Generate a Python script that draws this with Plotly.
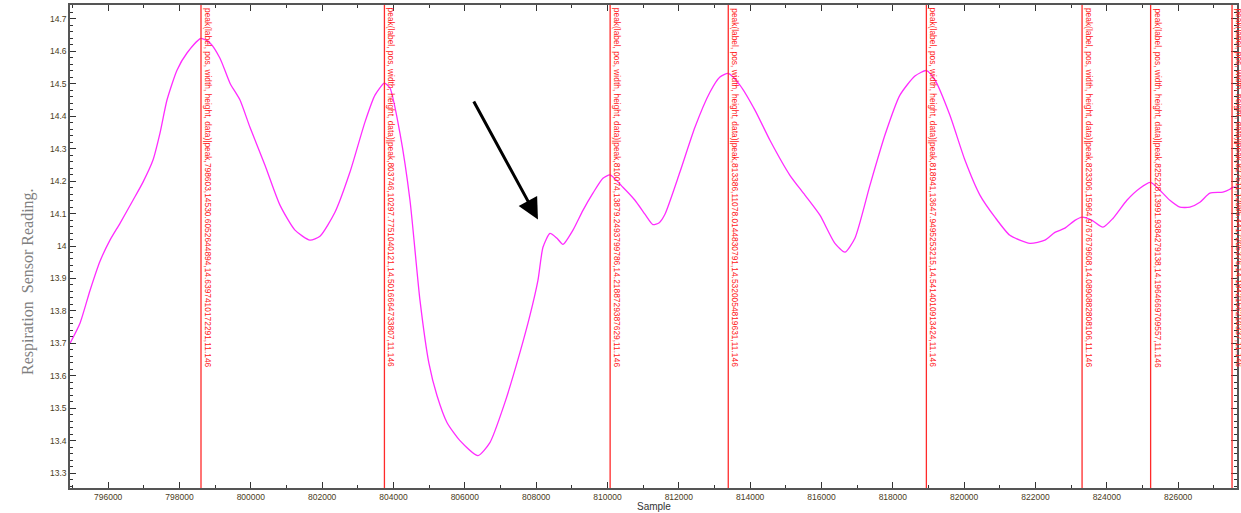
import plotly.graph_objects as go

# ---- data ----
sample = [794930, 795210, 795491, 795771, 796051, 796332, 796696, 796977, 797257, 797453,
          797649, 797930, 798210, 798603, 798855, 799135, 799416, 799696, 799976, 800397,
          800817, 801238, 801658, 801939, 802359, 802780, 803200, 803481, 803746, 803901,
          804181, 804462, 804742, 804994, 805219, 805499, 805864, 806368, 806703, 807125,
          807546, 807826, 808050, 808191, 808387, 808583, 808751, 809032, 809312, 809592,
          809873, 810074, 810433, 810770, 811050, 811274, 811450, 811611, 812031, 812452,
          812872, 813153, 813386, 813713, 814134, 814555, 815115, 815536, 815956, 816377,
          816657, 816937, 817358, 817779, 818199, 818620, 818941, 819180, 819601, 820021,
          820442, 820862, 821283, 821844, 822264, 822544, 822825, 823105, 823306, 823586,
          823890, 824171, 824563, 824927, 825228, 825488, 825768, 826049, 826329, 826610,
          826890, 827254, 827450, 827534, 827650]
reading = [13.700, 13.762, 13.863, 13.953, 14.018, 14.070, 14.141, 14.197, 14.265, 14.348,
           14.450, 14.542, 14.595, 14.640, 14.626, 14.579, 14.502, 14.450, 14.366, 14.249,
           14.126, 14.049, 14.018, 14.030, 14.104, 14.228, 14.382, 14.465, 14.502, 14.487,
           14.348, 14.141, 13.833, 13.638, 13.539, 13.456, 13.400, 13.354, 13.394, 13.518,
           13.672, 13.786, 13.894, 13.996, 14.039, 14.024, 14.005, 14.049, 14.110, 14.163,
           14.209, 14.219, 14.181, 14.141, 14.098, 14.066, 14.072, 14.098, 14.228, 14.366,
           14.474, 14.521, 14.532, 14.496, 14.419, 14.326, 14.218, 14.157, 14.095, 14.008,
           13.981, 14.024, 14.187, 14.342, 14.465, 14.524, 14.541, 14.512, 14.403, 14.265,
           14.157, 14.089, 14.033, 14.008, 14.018, 14.042, 14.055, 14.079, 14.089, 14.079,
           14.058, 14.085, 14.141, 14.178, 14.196, 14.172, 14.141, 14.120, 14.120, 14.135,
           14.163, 14.166, 14.175, 14.181, 14.181]

peak_pos = [798603, 803746, 810074, 813386, 818941, 823306, 825228, 827511]
peak_width = ["14530.6052644894", "10297.7751040121", "13879.2493799786", "11078.0144830791",
              "13647.9495253215", "15964.9767679608", "13991.9384279138", "12985.4417205376"]
peak_height = ["14.6397410172291", "14.5016664733807", "14.2188729387629", "14.5320054819631",
               "14.5414010913424", "14.0890882808106", "14.1964669709557", "14.1842156210337"]
peak_data = "11.146"

x_range = [794930, 827650]
y_range = [13.254, 14.743]
arrow_tail = (806228, 14.450)
arrow_head = (808050, 14.082)

fig = go.Figure()
fig.add_trace(go.Scatter(x=sample, y=reading, mode="lines",
                         line=dict(color="#ff2cff", width=1.3, shape="spline", smoothing=0.6),
                         showlegend=False, hoverinfo="skip"))

for p, w, h in zip(peak_pos, peak_width, peak_height):
    fig.add_shape(type="line", xref="x", yref="paper", x0=p, x1=p, y0=0, y1=1,
                  line=dict(color="#ff2a2a", width=1.3))
    fig.add_annotation(x=p, xref="x", y=1, yref="paper", xanchor="left", yanchor="top",
                       textangle=90, showarrow=False, xshift=0, yshift=-1,
                       text=f"peak(label, pos, width, height, data)|peak,{p},{w},{h},{peak_data}",
                       font=dict(family="Liberation Sans Narrow, Arial Narrow, Liberation Sans", size=8.4,
                                 color="#ff2020"))

fig.add_annotation(x=arrow_head[0], y=arrow_head[1], ax=arrow_tail[0], ay=arrow_tail[1],
                   xref="x", yref="y", axref="x", ayref="y", text="", showarrow=True,
                   arrowhead=2, arrowsize=1.4, arrowwidth=3, arrowcolor="black")

fig.add_annotation(x=-0.0454, y=0.4265, xref="paper", yref="paper", textangle=-90,
                   showarrow=False, text="Respiration  Sensor Reading.",
                   font=dict(family="Liberation Serif, Times New Roman, serif", size=16, color="#808080"))
fig.add_annotation(x=0.5, y=-0.039, xref="paper", yref="paper", showarrow=False,
                   text="Sample", yanchor="middle",
                   font=dict(family="Liberation Sans, Arial", size=10, color="#333333"))

axis_common = dict(showgrid=False, zeroline=False, showline=True, linecolor="#555555",
                   linewidth=1.5, mirror="ticks", ticks="inside", ticklen=6, tickwidth=1,
                   tickcolor="#333333", automargin=False,
                   tickfont=dict(family="Liberation Sans, Arial", size=8.5, color="#4a3c1c"))
fig.update_xaxes(range=x_range, dtick=2000, tick0=0, tickformat="d",
                 minor=dict(dtick=1000, ticks="inside", ticklen=3, tickcolor="#333333"),
                 **axis_common)
fig.update_yaxes(range=y_range, dtick=0.1, tick0=0,
                 minor=dict(dtick=0.02, ticks="inside", ticklen=3, tickcolor="#333333"),
                 **axis_common)

fig.update_layout(width=1241, height=513, margin=dict(l=70, r=4, t=5, b=25),
                  plot_bgcolor="white", paper_bgcolor="white")
fig.write_html("out.html", config={"displayModeBar": False},
               post_script="document.body.style.margin='0';document.body.style.overflow='hidden';")
